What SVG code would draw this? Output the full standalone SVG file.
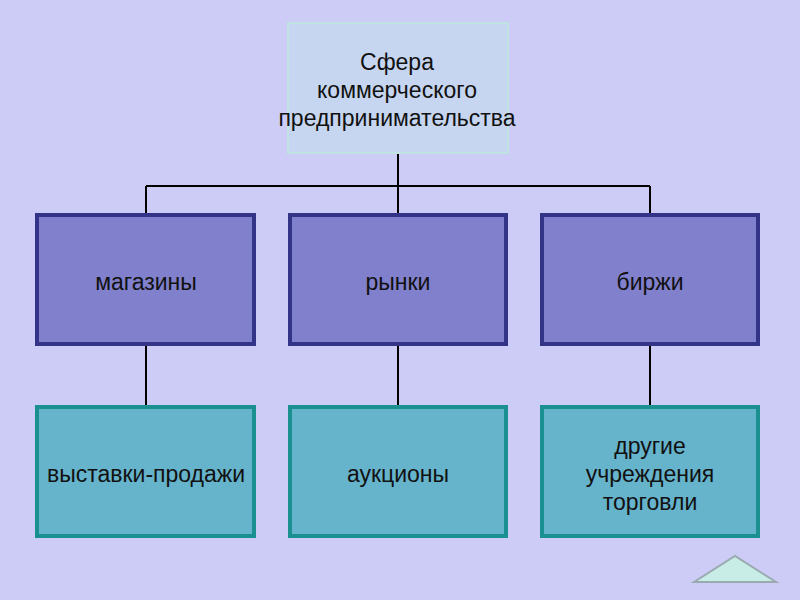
<svg xmlns="http://www.w3.org/2000/svg" width="800" height="600" viewBox="0 0 800 600">
<style>
text{font-family:"Liberation Sans",Arial,sans-serif;font-size:23px;fill:#111;text-anchor:middle}
.mid{fill:#8080cc;stroke:#333388;stroke-width:4}
.bot{fill:#66b3cc;stroke:#1a9090;stroke-width:4}
.con{stroke:#000;stroke-width:2;fill:none}
</style>
<rect width="800" height="600" fill="#ccccf7"/>
<g id="connectors">
<path class="con" d="M398 153V186M146 186H650M146 186V215M398 186V215M650 186V215M146 345V407M398 345V407M650 345V407"/>
</g>
<g id="root">
<rect x="288" y="23" width="220" height="130" fill="#c6d6f0" stroke="#bfe2e2" stroke-width="2"/>
<text x="397" y="70">Сфера</text>
<text x="397" y="98">коммерческого</text>
<text x="397" y="126">предпринимательства</text>
</g>
<g id="n1"><rect class="mid" x="37" y="215" width="217" height="129"/><text x="146" y="290">магазины</text></g>
<g id="n2"><rect class="mid" x="290" y="215" width="216" height="129"/><text x="398" y="290">рынки</text></g>
<g id="n3"><rect class="mid" x="542" y="215" width="216" height="129"/><text x="650" y="290">биржи</text></g>
<g id="n4"><rect class="bot" x="37" y="407" width="217" height="129"/><text x="146" y="482">выставки-продажи</text></g>
<g id="n5"><rect class="bot" x="290" y="407" width="216" height="129"/><text x="398" y="482">аукционы</text></g>
<g id="n6"><rect class="bot" x="542" y="407" width="216" height="129"/>
<text x="650" y="454">другие</text><text x="650" y="482">учреждения</text><text x="650" y="510">торговли</text></g>
<polygon points="694,582 735,556 776,582" fill="#c8ece6" stroke="#9aaab0" stroke-width="2"/>
</svg>
